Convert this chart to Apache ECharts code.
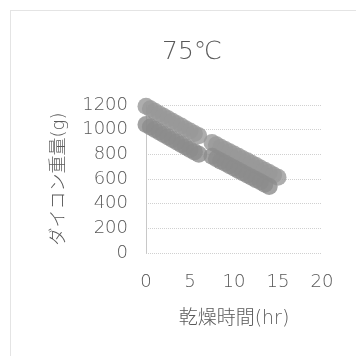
<!DOCTYPE html>
<html>
<head>
<meta charset="utf-8">
<script src="https://cdn.jsdelivr.net/npm/echarts@6/dist/echarts.min.js"></script>
<style>
  html, body { margin: 0; padding: 0; background: #fff; }
  #chart { width: 356px; height: 356px; }
</style>
</head>
<body>
<div id="chart"></div>
<script>
// Drying curve of daikon radish at 75°C: weight (g) vs drying time (hr)
const chartTitle = '75℃';
const xAxisName = '乾燥時間(hr)';
const yAxisName = 'ダイコン重量(g)';

// Sample A
const timeA = [0, 0.5, 1, 1.5, 2, 2.5, 3, 3.5, 4, 4.5, 5, 5.5, 6,
               7.5, 8, 8.5, 9, 9.5, 10, 10.5, 11, 11.5, 12, 12.5, 13, 13.5, 14, 14.5, 15];
const weightA = [1190, 1169, 1150, 1128, 1109, 1088, 1069, 1048, 1030, 1008, 989, 968, 950,
                 896, 878, 858, 840, 820, 802, 784, 765, 747, 727, 709, 690, 671, 652, 633, 614];

// Sample B
const timeB = [0, 0.5, 1, 1.5, 2, 2.5, 3, 3.5, 4, 4.5, 5, 5.5, 6,
               7.5, 8, 8.5, 9, 9.5, 10, 10.5, 11, 11.5, 12, 12.5, 13, 13.5, 14];
const weightB = [1042, 1022, 1001, 982, 961, 941, 921, 901, 880, 860, 840, 820, 800,
                 784, 765, 745, 727, 708, 689, 670, 651, 633, 614, 595, 577, 558, 540];

const pairs = (xs, ys) => xs.map((x, i) => [x, ys[i]]);

const textColor = '#595959';
const latinFont = '"DejaVu Sans", "Noto Sans CJK JP", sans-serif';

const chart = echarts.init(document.getElementById('chart'), null, { renderer: 'canvas' });
chart.setOption({
  animation: false,
  backgroundColor: '#ffffff',
  graphic: [{
    type: 'rect',
    shape: { x: 10.5, y: 10.5, width: 400, height: 400 },
    style: { fill: 'none', stroke: '#c8c8c8', lineWidth: 1, lineDash: [1, 1] },
    silent: true
  }],
  title: {
    text: chartTitle,
    left: 187,
    top: 35,
    textAlign: 'center',
    textStyle: { fontFamily: latinFont, fontSize: 25, fontWeight: 300, color: textColor }
  },
  grid: { left: 146, right: 34, top: 105, bottom: 103, containLabel: false },
  xAxis: {
    type: 'value',
    min: 0, max: 20, interval: 5,
    name: xAxisName,
    nameLocation: 'middle',
    nameGap: 57,
    nameTextStyle: { fontFamily: latinFont, fontSize: 19, fontWeight: 300, color: textColor },
    axisLine: { show: false },
    axisTick: { show: false },
    splitLine: { show: false },
    axisLabel: { fontFamily: latinFont, fontSize: 18, fontWeight: 300, color: textColor, margin: 20 }
  },
  yAxis: {
    type: 'value',
    min: 0, max: 1200, interval: 200,
    name: yAxisName,
    nameLocation: 'middle',
    nameGap: 78,
    nameRotate: 90,
    nameTextStyle: { fontFamily: latinFont, fontSize: 18, fontWeight: 300, color: textColor },
    axisLine: { show: true, lineStyle: { color: '#c8c8c8', width: 1 } },
    axisTick: { show: false },
    splitLine: { show: true, lineStyle: { color: '#d0d0d0', width: 1, type: [1, 1] } },
    axisLabel: {
      fontFamily: latinFont, fontSize: 18, fontWeight: 300, color: textColor, margin: 18,
      formatter: (v) => String(v)
    }
  },
  series: [
    {
      name: 'A',
      type: 'scatter',
      data: pairs(timeA, weightA),
      symbol: 'circle',
      symbolSize: 17,
      itemStyle: { color: '#999999' }
    },
    {
      name: 'B',
      type: 'scatter',
      data: pairs(timeB, weightB),
      symbol: 'circle',
      symbolSize: 17,
      itemStyle: { color: '#8c8c8c' }
    }
  ]
});
</script>
</body>
</html>
